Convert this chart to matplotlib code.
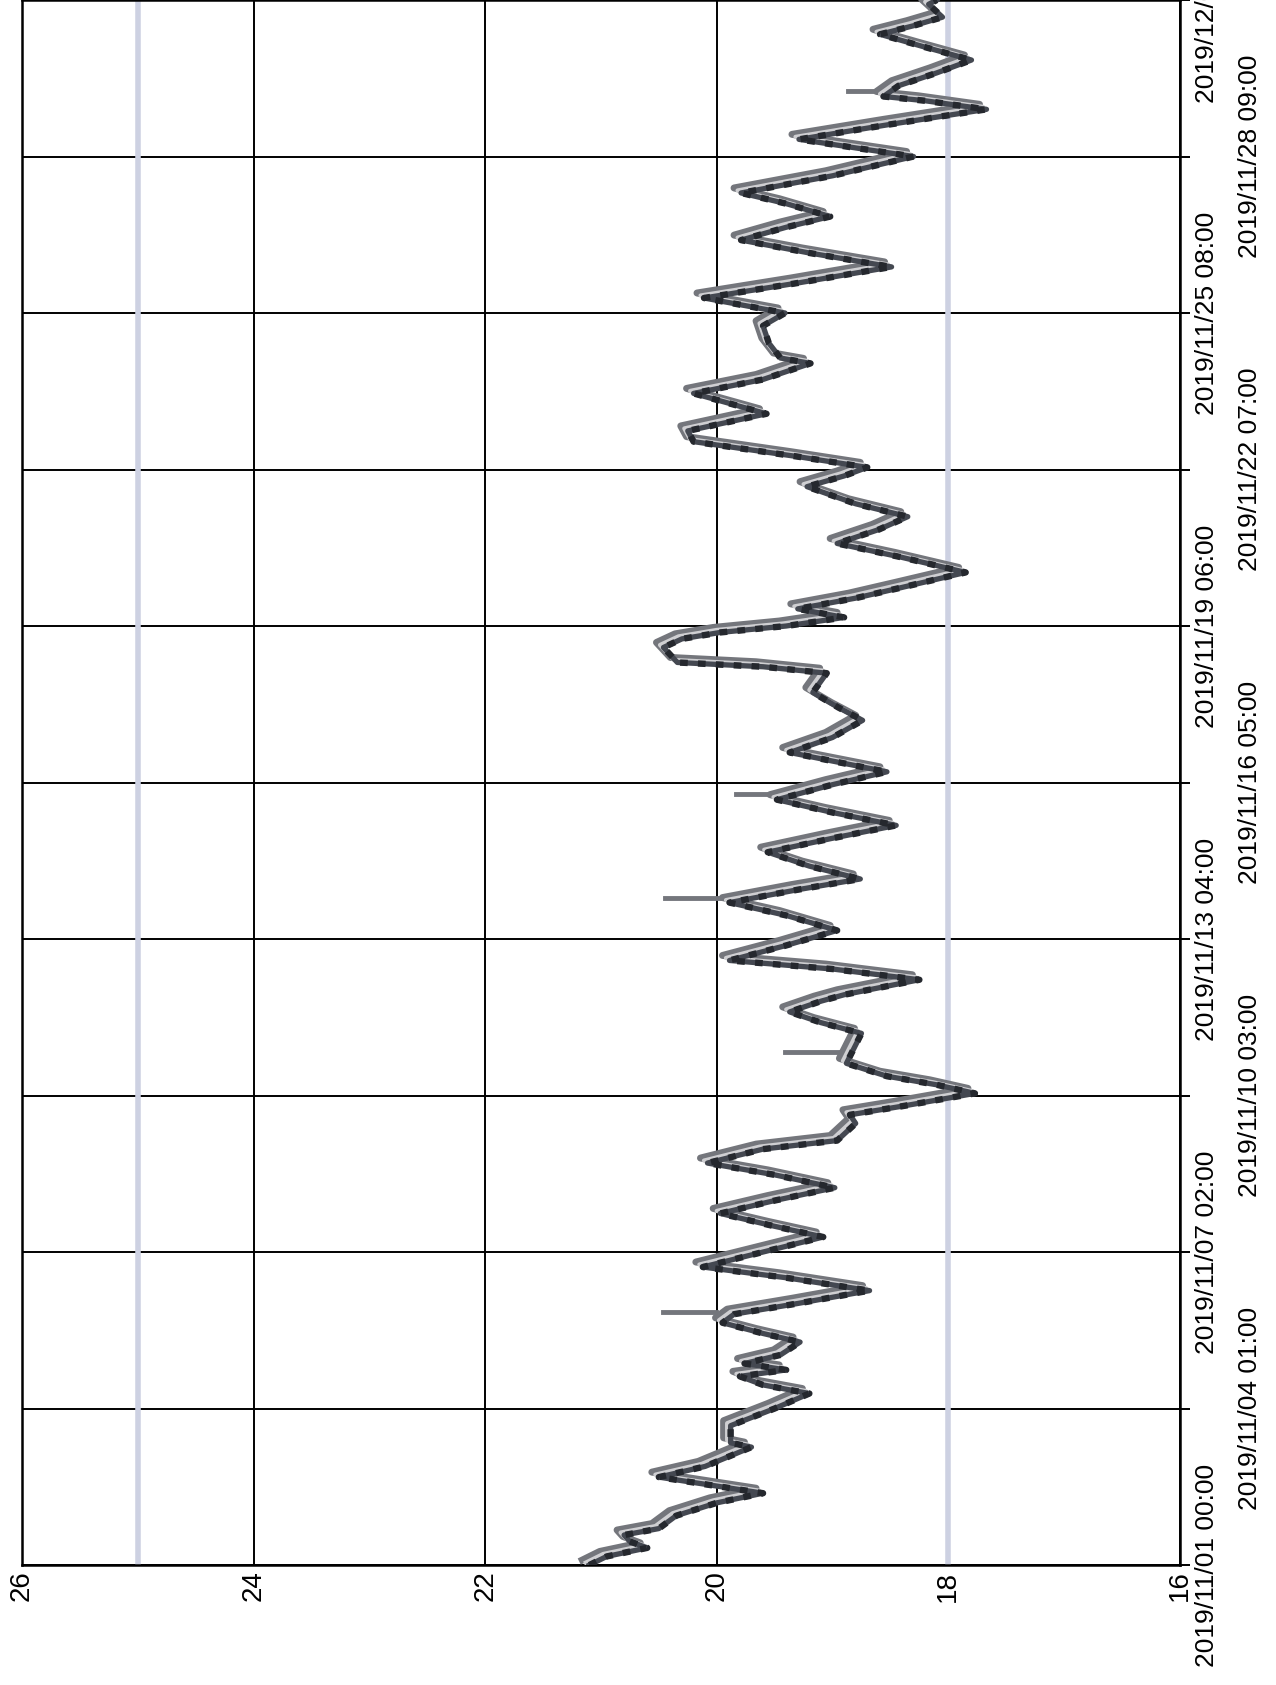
import numpy as np
import pandas as pd
import matplotlib
matplotlib.use('Agg')
import matplotlib.pyplot as plt
import matplotlib.dates as mdates
from matplotlib import transforms

# hours since 2019/11/01 00:00, temperature
hours = [0, 4, 8, 11, 14, 17, 23, 29, 33.5, 36, 41, 46, 55, 57, 65, 73, 80, 84, 88, 91,
         94, 98, 104, 108, 113, 117, 122, 128, 134, 139, 146, 153, 158, 164, 170, 176, 182, 187.5, 194, 198,
         206, 210, 214, 220, 224, 228, 234, 248, 253, 258, 263, 266, 273, 278, 282, 289, 296, 303, 309, 315,
         320, 326, 332.5, 339, 345, 351, 357, 364, 370, 375, 379, 386, 394, 400, 407, 416, 419, 421, 428, 432,
         435, 438, 442, 446, 451, 456, 463, 470, 476.5, 483, 489, 495, 503, 508, 512, 517, 524, 529, 537, 542,
         546.5, 553, 560.5, 563, 570, 578, 584, 591, 598, 605.5, 612, 618, 624, 629, 635, 640, 648, 657, 661, 665,
         672, 679, 683, 685, 690, 696, 702, 708, 714, 718, 722, 728, 730]
temps = [21.1, 20.95, 20.6, 20.75, 20.8, 20.5, 20.35, 20.0, 19.6, 19.9, 20.5, 20.1, 19.7, 19.88, 19.88, 19.5, 19.2, 19.6, 19.8, 19.4,
         19.76, 19.45, 19.28, 19.6, 19.95, 19.85, 19.3, 18.68, 19.4, 20.12, 19.6, 19.08, 19.5, 19.97, 19.5, 18.98, 19.5, 20.08, 19.6, 18.96,
         18.8, 18.85, 18.4, 17.77, 18.1, 18.53, 18.88, 18.75, 19.1, 19.37, 19.1, 18.9, 18.25, 19.0, 19.89, 19.4, 18.96, 19.4, 19.89, 19.3,
         18.76, 19.2, 19.56, 19.0, 18.45, 19.0, 19.48, 19.0, 18.53, 19.0, 19.37, 19.0, 18.74, 18.95, 19.17, 19.05, 19.6, 20.34, 20.46, 20.3,
         19.97, 19.4, 18.9, 19.3, 18.8, 18.4, 17.85, 18.4, 18.96, 18.6, 18.35, 18.8, 19.22, 18.9, 18.7, 19.3, 20.2, 20.25, 19.57, 19.9,
         20.2, 19.6, 19.19, 19.45, 19.55, 19.6, 19.41, 20.11, 19.3, 18.49, 19.2, 19.79, 19.4, 19.02, 19.4, 19.79, 19.0, 18.3, 18.8, 19.29,
         18.5, 17.67, 18.2, 18.56, 18.43, 18.1, 17.8, 18.2, 18.59, 18.3, 18.05, 18.17, 18.1]

# short single-reading spikes of the second sensor
spike_hours = [115.5, 237, 309, 357.5, 685]
spike_base = [19.95, 18.88, 19.89, 19.48, 18.56]
spike_temps = [20.4, 19.35, 20.39, 19.77, 18.81]

limit_lines = [25, 18]
temp_ticks = [26, 24, 22, 20, 18, 16]
time_ticks = ['2019/11/01 00:00', '2019/11/04 01:00', '2019/11/07 02:00', '2019/11/10 03:00',
              '2019/11/13 04:00', '2019/11/16 05:00', '2019/11/19 06:00', '2019/11/22 07:00',
              '2019/11/25 08:00', '2019/11/28 09:00', '2019/12/01 10:00']

start = pd.Timestamp('2019-11-01 00:00')
t = mdates.date2num(start + pd.to_timedelta(hours, unit='h'))
ts = mdates.date2num(start + pd.to_timedelta(spike_hours, unit='h'))
tick_pos = mdates.date2num(pd.to_datetime(time_ticks, format='%Y/%m/%d %H:%M'))

plt.rcParams['font.family'] = ['Liberation Sans', 'DejaVu Sans']

fig = plt.figure(figsize=(12.76, 16.85), dpi=100)
ax = fig.add_axes([0.0172, 0.0712, 0.9075, 0.9288])

# scanned chart: three sensors drawn almost on top of each other
mid_tr = transforms.offset_copy(ax.transData, fig=fig, x=-7, y=5, units='dots')
light_tr = transforms.offset_copy(ax.transData, fig=fig, x=-3.5, y=2.5, units='dots')
ax.plot(temps, t, color='#74767c', lw=5.0, transform=mid_tr, zorder=3)
for b, s, y in zip(spike_base, spike_temps, ts):
    ax.plot([b, s], [y, y], color='#74767c', lw=3.5, transform=mid_tr, zorder=3)
ax.plot(temps, t, color='#cfcfd2', lw=3.0, transform=light_tr, zorder=4)
ax.plot(temps, t, color='#444851', lw=3.8, zorder=5)
# hourly steps show up as dark dots along the main trace
ax.plot(temps, t, color='#25282e', lw=4.6, ls=(0, (1.2, 1.6)), zorder=6)

for v in limit_lines:
    ax.axvline(v, color='#cdd1e2', lw=4, zorder=2)

ax.set_xlim(26, 16)
ax.set_ylim(tick_pos[0], tick_pos[-1])
ax.set_xticks(temp_ticks)
ax.set_xticklabels([str(v) for v in temp_ticks])
ax.tick_params(axis='x', length=0, pad=4, labelsize=20, labelrotation=90)

ax.yaxis.tick_right()
ax.set_yticks(tick_pos)
ax.set_yticklabels(time_ticks, rotation=90, va='center', ha='left', fontsize=19)
ax.tick_params(axis='y', direction='out', length=7, width=1.4)
for i, tk in enumerate(ax.yaxis.get_major_ticks()):
    tk.set_pad(4 if i % 2 == 0 else 35)

ax.set_axisbelow(True)
ax.grid(True, color='black', lw=1.4)
for sp in ax.spines.values():
    sp.set_linewidth(1.8)

fig.savefig('out.png', dpi=100, facecolor='white')
